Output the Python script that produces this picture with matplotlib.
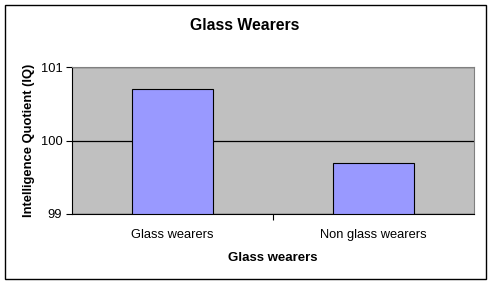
import matplotlib.pyplot as plt
from matplotlib.patches import Rectangle

plt.rcParams['font.family'] = ['Liberation Sans', 'DejaVu Sans']

categories = ['Glass wearers', 'Non glass wearers']
iq = [100.7, 99.7]
y_ticks = [99, 100, 101]

fig = plt.figure(figsize=(4.91, 2.84), dpi=100)
fig.patch.set_facecolor('white')
fig.patches.append(Rectangle((5 / 491, 5 / 284), 481 / 491, 274 / 284,
                             transform=fig.transFigure, fill=False,
                             edgecolor='black', linewidth=1.0))

ax = fig.add_axes([72 / 491, 70 / 284, 402 / 491, 147 / 284])
ax.set_facecolor('#C0C0C0')

x = range(len(categories))
ax.bar(x, [v - 99 for v in iq], bottom=99, width=0.4,
       color='#9999FF', edgecolor='black', linewidth=0.8, zorder=3)

ax.set_xlim(-0.5, 1.5)
ax.set_ylim(99, 101)
ax.set_yticks(y_ticks)
ax.set_yticklabels([str(t) for t in y_ticks], fontsize=9.3)
ax.yaxis.grid(True, color='black', linewidth=0.9, zorder=1)
ax.set_axisbelow(True)

ax.set_xticks([0.5])
ax.set_xticklabels([''])
ax.set_xticks(list(x), minor=True)
ax.set_xticklabels(categories, minor=True, fontsize=9.3)
ax.tick_params(axis='x', which='minor', length=0, pad=11)
ax.tick_params(axis='x', which='major', length=4, direction='out')
ax.tick_params(axis='y', length=4, direction='out', pad=3)

for s in ['top', 'right']:
    ax.spines[s].set_color('#808080')
for s in ['left', 'bottom']:
    ax.spines[s].set_color('black')

ax.set_xlabel('Glass wearers', fontsize=9.5, fontweight='bold', labelpad=7.5)
ax.set_ylabel('Intelligence Quotient (IQ)', fontsize=9.4, fontweight='bold', labelpad=4)
fig.text(245 / 491, 1 - 25 / 284, 'Glass Wearers', ha='center', va='center',
         fontsize=11.3, fontweight='bold')

fig.savefig('out.png', dpi=100)
